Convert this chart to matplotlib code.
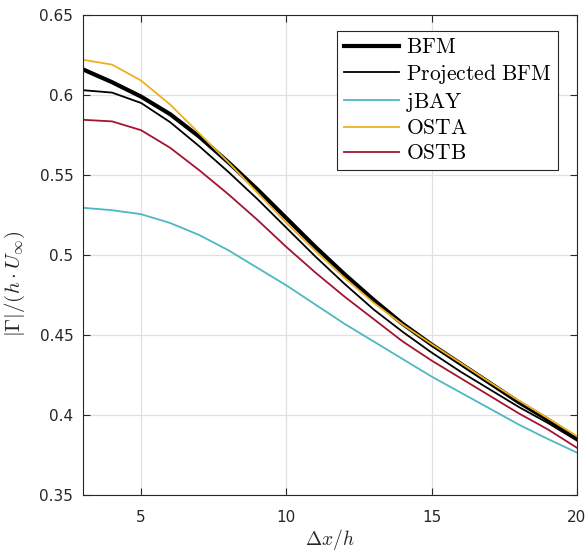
import matplotlib
matplotlib.use("Agg")
import matplotlib.pyplot as plt

plt.rcParams['mathtext.fontset'] = 'cm'
plt.rcParams['font.family'] = ['DejaVu Sans']

x = list(range(3, 21))
bfm = [0.616, 0.608, 0.599, 0.588, 0.574, 0.558, 0.541, 0.523, 0.505, 0.488,
       0.472, 0.457, 0.444, 0.432, 0.420, 0.408, 0.397, 0.3855]
proj_bfm = [0.603, 0.6015, 0.595, 0.583, 0.568, 0.552, 0.535, 0.517, 0.499, 0.482,
            0.466, 0.452, 0.439, 0.427, 0.416, 0.405, 0.395, 0.384]
jbay = [0.5295, 0.528, 0.5255, 0.520, 0.5125, 0.503, 0.492, 0.481, 0.469, 0.457,
        0.446, 0.435, 0.424, 0.414, 0.404, 0.394, 0.385, 0.3765]
osta = [0.622, 0.619, 0.609, 0.594, 0.576, 0.558, 0.539, 0.520, 0.5025, 0.4857,
        0.4702, 0.4565, 0.4443, 0.4325, 0.4205, 0.409, 0.398, 0.3867]
ostb = [0.5845, 0.5835, 0.578, 0.567, 0.553, 0.538, 0.522, 0.505, 0.489, 0.474,
        0.460, 0.446, 0.434, 0.423, 0.412, 0.401, 0.391, 0.3795]

labels = [r'$\mathrm{BFM}$', r'$\mathrm{Projected\ BFM}$', r'$\mathrm{jBAY}$',
          r'$\mathrm{OSTA}$', r'$\mathrm{OSTB}$']
xticks = [5, 10, 15, 20]
yticks = [0.35, 0.4, 0.45, 0.5, 0.55, 0.6, 0.65]
ytick_labels = ['0.35', '0.4', '0.45', '0.5', '0.55', '0.6', '0.65']

fig = plt.figure(figsize=(5.86, 5.51), dpi=100)
ax = fig.add_axes([0.1416, 0.1016, 0.8430, 0.8712])

ax.plot(x, bfm, color='black', lw=3.0, label=labels[0])
ax.plot(x, proj_bfm, color='black', lw=1.3, label=labels[1])
ax.plot(x, jbay, color='#4DB8C2', lw=1.3, label=labels[2])
ax.plot(x, osta, color='#EDB120', lw=1.3, label=labels[3])
ax.plot(x, ostb, color='#A2142F', lw=1.3, label=labels[4])

ax.set_xlim(3, 20)
ax.set_ylim(0.35, 0.65)
ax.set_xticks(xticks)
ax.set_xticklabels([str(t) for t in xticks])
ax.set_yticks(yticks)
ax.set_yticklabels(ytick_labels)
ax.grid(True, color='#E0E0E0', lw=0.9)
ax.set_axisbelow(True)
ax.tick_params(direction='in', length=5, width=0.8, labelsize=11, colors='#262626',
               top=True, right=True)
ax.tick_params(axis='x', pad=11)
ax.tick_params(axis='y', pad=7)
for s in ax.spines.values():
    s.set_color('#262626')
    s.set_linewidth(0.8)

ax.set_xlabel(r'$\Delta x/h$', fontsize=14, color='#262626', labelpad=1)
ax.set_ylabel(r'$|\Gamma|/(h\cdot U_\infty)$', fontsize=15, color='#262626')
ax.yaxis.set_label_coords(-0.113, 0.44)

leg = ax.legend(loc='upper right', bbox_to_anchor=(0.9615, 0.967), fontsize=15.5,
                frameon=True, fancybox=False, edgecolor='#262626', framealpha=1,
                handlelength=2.55, handletextpad=0.32, labelspacing=0.22,
                borderpad=0.3, borderaxespad=0)
leg.get_frame().set_linewidth(0.8)

fig.savefig('out.png', dpi=100)
